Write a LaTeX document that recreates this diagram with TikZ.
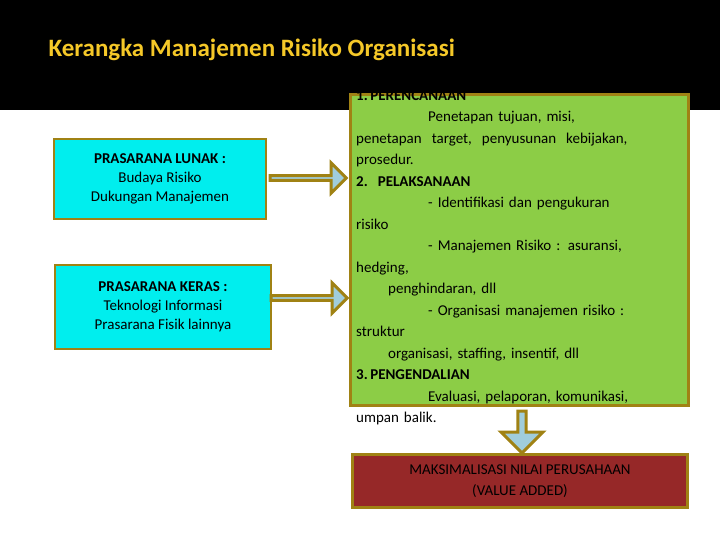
\documentclass[tikz,border=0pt]{standalone}
\usepackage{fontspec}
\setmainfont{Carlito}
\usetikzlibrary{shapes.arrows}
\definecolor{olive}{RGB}{160,130,20}
\definecolor{cyanf}{RGB}{0,238,238}
\definecolor{greenf}{RGB}{140,205,70}
\definecolor{redf}{RGB}{150,40,40}
\definecolor{arrf}{RGB}{160,205,220}
\definecolor{titc}{RGB}{245,200,40}
\tikzset{
 lbox/.style={draw=olive,line width=2.5pt,fill=cyanf,align=center,font=\fontsize{15}{19}\selectfont,minimum width=212pt,minimum height=80pt},
 rarr/.style={single arrow,draw=olive,line width=3pt,fill=arrf,single arrow head extend=8pt,minimum height=76pt,minimum width=30pt,inner sep=0pt},
}
\begin{document}
\begin{tikzpicture}[x=1pt,y=-1pt]
\useasboundingbox (0,0) rectangle (720,540);
\fill[black] (0,0) rectangle (720,110);
\node[anchor=west,text=titc,font=\fontsize{25}{28}\selectfont\bfseries] (title) at (45,50) {Kerangka Manajemen Risiko Organisasi};
\node[lbox] (lunak) at (160,179) {\textbf{PRASARANA LUNAK :}\\Budaya Risiko\\Dukungan Manajemen};
\node[lbox,minimum width=216pt,minimum height=84pt] (keras) at (163,307) {\textbf{PRASARANA KERAS :}\\Teknologi Informasi\\Prasarana Fisik lainnya};
\fill[greenf,draw=olive,line width=3pt] (350,95) rectangle (688,405);
\node[coordinate] (gl) at (350,178) {};
\node[coordinate] (gl2) at (350,298) {};
\node[rarr] (a1) at (307,178) {};
\node[rarr] (a2) at (308,298) {};
\node[anchor=north west,align=left,text width=330pt,inner sep=0pt,font=\fontsize{15}{21.5}\selectfont] (txt) at (356,90) {%
\textbf{1.\,PERENCANAAN}\\
\hspace*{72pt}Penetapan tujuan, misi,\\
penetapan\ \ target,\ \ penyusunan\ \ kebijakan,\\
prosedur.\\
\textbf{2.\ \ PELAKSANAAN}\\
\hspace*{72pt}- Identifikasi dan pengukuran\\
risiko\\
\hspace*{72pt}- Manajemen Risiko : asuransi,\\
hedging,\\
\hspace*{32pt}penghindaran, dll\\
\hspace*{72pt}- Organisasi manajemen risiko :\\
struktur\\
\hspace*{32pt}organisasi, staffing, insentif, dll\\
\textbf{3.\,PENGENDALIAN}\\
\hspace*{72pt}Evaluasi, pelaporan, komunikasi,\\
umpan balik.};
\node[single arrow,shape border rotate=270,draw=olive,line width=3pt,fill=arrf,minimum height=42pt,minimum width=42pt,single arrow head extend=6pt,inner sep=0pt] (down) at (522,430) {};
\node[draw=olive,line width=2.5pt,fill=redf,minimum width=335pt,minimum height=53pt,align=center,font=\fontsize{15}{21}\selectfont] (hasil) at (520,481) {MAKSIMALISASI NILAI PERUSAHAAN\\(VALUE ADDED)};
\end{tikzpicture}
\end{document}
